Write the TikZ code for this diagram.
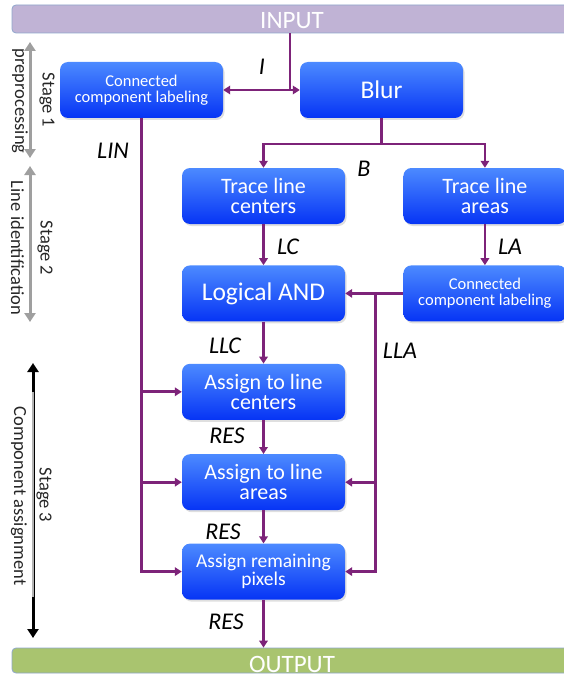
\documentclass[tikz,border=0pt]{standalone}
\usepackage{fontspec}
\setmainfont{Carlito}
\usepackage{tikz}
\usepackage{xcolor}
\usetikzlibrary{arrows.meta, positioning, shadows}
\definecolor{flowpurple}{HTML}{7D2379}
\definecolor{boxtop}{HTML}{4C8AFF}
\definecolor{boxbot}{HTML}{0634F5}
\definecolor{inputcol}{HTML}{C0B3D5}
\definecolor{outputcol}{HTML}{A9C46F}
\definecolor{baredge}{HTML}{8FA6CC}
\tikzstyle{block} = [rectangle, rounded corners=8pt, 
minimum width=163pt, 
minimum height=56pt,
inner sep=2pt,
text centered, 
align=center,
text=white,
top color=boxtop, bottom color=boxbot,
drop shadow={opacity=0.25, shadow xshift=1.5pt, shadow yshift=-2pt}]
\tikzstyle{bigtext} = [font=\fontsize{25.5}{26}\selectfont]
\tikzstyle{midtext} = [font=\fontsize{22}{20}\selectfont]
\tikzstyle{smalltext} = [font=\fontsize{16.5}{15.5}\selectfont]
\tikzstyle{iobar} = [rectangle, rounded corners=4pt, 
minimum width=560pt, 
draw=baredge, line width=0.8pt, 
inner sep=0pt, text depth=0pt,
text=white, font=\fontsize{25}{26}\selectfont]
\tikzstyle{wire} = [line width=2.7pt, draw=flowpurple]
\tikzstyle{arrow} = [wire, -{Triangle[length=7pt,width=8.5pt]}]
\tikzstyle{lbl} = [font=\fontsize{24}{24}\selectfont\itshape]
\tikzstyle{stagearrow} = [line width=3pt, draw=gray!75, 
{Triangle[length=9pt,width=11pt]}-{Triangle[length=9pt,width=11pt]}]
\tikzstyle{stagetext} = [rotate=-90, text=black!85, font=\fontsize{18.5}{19}\selectfont]
\begin{document}
\begin{tikzpicture}[x=1pt, y=-1pt]
        \useasboundingbox (0,0) rectangle (564,674);

        % --- Barras de entrada y salida ---
        \node (input) [iobar, fill=inputcol, minimum height=28pt, text height=20pt] at (292,19) {INPUT};
        \node (output) [iobar, fill=outputcol, minimum height=25pt, text height=23pt] at (292,660.5) {OUTPUT};

        % --- Definición de nodos ---
        \node (ccl1) [block, smalltext] at (141.5,90) {Connected\\component labeling};
        
        \node (blur) [block, bigtext] at (381.5,90) {Blur};
        
        \node (tlc) [block, midtext] at (263.5,196) {Trace line\\centers};
        
        \node (tla) [block, midtext, right=58pt of tlc] {Trace line\\areas};
        
        \node (land) [block, bigtext, below=41pt of tlc] {Logical AND};
        
        \node (ccl2) [block, smalltext, right=58pt of land] {Connected\\component labeling};
        
        \node (atlc) [block, midtext, below=42pt of land] {Assign to line\\centers};
        
        \node (atla) [block, midtext, below=34pt of atlc] {Assign to line\\areas};
        
        \node (arp) [block, font=\fontsize{19.5}{18}\selectfont, below=33pt of atla] {Assign remaining\\pixels};

        % --- Conexiones ---
        \coordinate (isplit) at (290,90);
        \draw [wire] (input.south -| isplit) -- (isplit);
        \draw [arrow] (isplit) -- (blur.west);
        \draw [arrow] (isplit) -- (ccl1.east);
        \coordinate (bsplit) at (381.5,144);
        \draw [wire] (blur.south) -- (bsplit);
        \draw [arrow] (bsplit) -| (tlc.north);
        \draw [arrow] (bsplit) -| (tla.north);
        \draw [arrow] (tlc) -- (land);
        \draw [arrow] (tla) -- (ccl2);
        \draw [arrow] (ccl2) -- (land);
        \path (land.east) -- (ccl2.west) coordinate[pos=0.52] (llasplit);
        \draw [arrow] (llasplit) |- (atla.east);
        \draw [arrow] (llasplit) |- (arp.east);
        \draw [arrow] (land) -- (atlc);
        \draw [arrow] (atlc) -- (atla);
        \draw [arrow] (atla) -- (arp);
        \draw [arrow] (arp.south) -- (arp.south |- output.north);
        \draw [arrow] (ccl1.south) |- (atlc.west);
        \draw [arrow] (ccl1.south) |- (atla.west);
        \draw [arrow] (ccl1.south) |- (arp.west);

        % --- Etiquetas ---
        \node (lbl_i) [lbl] at (262,67) {I};
        \node (lbl_b) [lbl] at (364,169) {B};
        \node (lbl_lin) [lbl] at (113,151) {LIN};
        \node (lbl_lc) [lbl] at (288,247) {LC};
        \node (lbl_la) [lbl] at (510,247) {LA};
        \node (lbl_llc) [lbl] at (225,346) {LLC};
        \node (lbl_lla) [lbl] at (400,351) {LLA};
        \node (lbl_res1) [lbl] at (227,436) {RES};
        \node (lbl_res2) [lbl] at (223,532) {RES};
        \node (lbl_res3) [lbl] at (226,622) {RES};

        % --- Etapas ---
        \coordinate (s1top) at (30,42);
        \coordinate (s1bot) at (30,158);
        \coordinate (s2top) at (30,166);
        \coordinate (s2bot) at (30,322);
        \coordinate (s3top) at (33,363);
        \coordinate (s3bot) at (33,638);
        \coordinate (s3mida) at (33,392);
        \coordinate (s3midb) at (33,597);
        \draw [stagearrow] (s1top) -- (s1bot);
        \draw [stagearrow] (s2top) -- (s2bot);
        \draw [stagearrow, draw=black] (s3top) -- (s3bot);
        \draw [line width=2pt, draw=gray!60] (s3mida) -- (s3midb);
        \node (st1) [stagetext] at (47,100) {Stage 1};
        \node (st1b) [stagetext] at (20,101) {preprocessing};
        \node (st2) [stagetext] at (45,248) {Stage 2};
        \node (st2b) [stagetext] at (17.5,248) {Line identification};
        \node (st3) [stagetext] at (44,495) {Stage 3};
        \node (st3b) [stagetext] at (19,496) {Component assignment};

    \end{tikzpicture}
\end{document}
